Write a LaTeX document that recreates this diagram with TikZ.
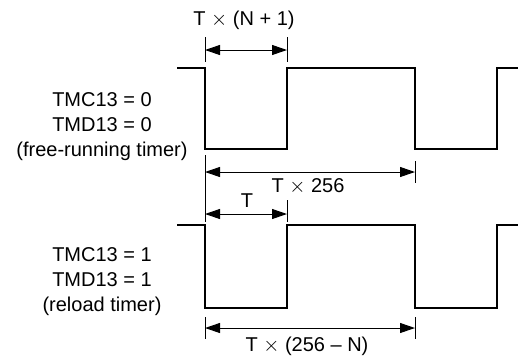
\documentclass[tikz,border=0pt]{standalone}
\usepackage{fontspec}
\setmainfont{Liberation Sans}
\usetikzlibrary{arrows.meta}
\newcommand{\tms}{$\times$}
\begin{document}
\begin{tikzpicture}[x=1pt,y=-1pt,
  wave/.style={line width=1.1pt,line join=miter},
  ext/.style={line width=1pt},
  dim/.style={line width=1pt,{Triangle[length=15pt,width=10pt]}-{Triangle[length=15pt,width=10pt]}},
  lbl/.style={font=\fontsize{20}{25}\selectfont,align=center,inner sep=0pt},
  dimtxt/.style={font=\fontsize{20}{24}\selectfont,inner sep=0pt}]
\useasboundingbox (0,0) rectangle (518,360);
% waveforms
\draw[wave] (177,68) -- (205,68) -- (205,149) -- (287,149) -- (287,68) -- (415,68) -- (415,149) -- (497,149) -- (497,68) -- (518,68);
\draw[wave] (177,225) -- (205,225) -- (205,308) -- (287,308) -- (287,225) -- (415,225) -- (415,308) -- (497,308) -- (497,225) -- (518,225);
% labels
\node[lbl] (l1) at (102,127) {TMC13 = 0\\TMD13 = 0\\(free-running timer)};
\node[lbl] (l2) at (102,282) {TMC13 = 1\\TMD13 = 1\\(reload timer)};
% dimension 1
\coordinate (a1) at (205,50); \coordinate (b1) at (287,50);
\draw[ext] (205,37) -- (205,62);
\draw[ext] (287,37) -- (287,62);
\draw[dim] (a1) -- (b1);
\node[dimtxt] (t1) at (244,20) {T \tms{} (N + 1)};
% dimension 2
\coordinate (a2) at (205,172); \coordinate (b2) at (415,172);
\draw[ext] (205,155) -- (205,222);
\draw[ext] (415,161) -- (415,183);
\draw[dim] (a2) -- (b2);
\node[dimtxt] (t2) at (308,186) {T \tms{} 256};
% dimension 3
\coordinate (a3) at (205,214); \coordinate (b3) at (287,214);
\draw[ext] (287,200) -- (287,222);
\draw[dim] (a3) -- (b3);
\node[dimtxt] (t3) at (247,201) {T};
% dimension 4
\coordinate (a4) at (205,328); \coordinate (b4) at (415,328);
\draw[ext] (205,317) -- (205,339);
\draw[ext] (415,317) -- (415,339);
\draw[dim] (a4) -- (b4);
\node[dimtxt] (t4) at (307,346) {T \tms{} (256 – N)};
\end{tikzpicture}
\end{document}
